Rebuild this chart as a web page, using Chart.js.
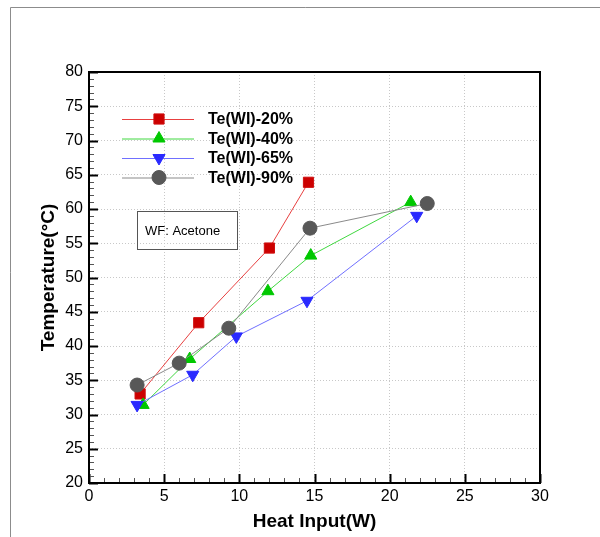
<!DOCTYPE html>
<html>
<head>
<meta charset="utf-8">
<script src="https://cdn.jsdelivr.net/npm/chart.js@4/dist/chart.umd.min.js"></script>
<style>
html,body{margin:0;padding:0;background:#fff;}
#c{display:block;}
</style>
</head>
<body>
<canvas id="c" width="600" height="537"></canvas>
<script>
// ---- data ----
const seriesNames = ['Te(WI)-20%', 'Te(WI)-40%', 'Te(WI)-65%', 'Te(WI)-90%'];
const x20 = [3.4, 7.3, 12.0, 14.6];
const y20 = [33.0, 43.4, 54.3, 63.9];
const x40 = [3.6, 6.7, 11.9, 14.75, 21.4];
const y40 = [31.4, 38.1, 48.0, 53.2, 61.0];
const x65 = [3.2, 6.9, 9.8, 14.5, 21.8];
const y65 = [31.4, 35.8, 41.4, 46.6, 59.0];
const x90 = [3.2, 6.0, 9.3, 14.7, 22.5];
const y90 = [34.3, 37.5, 42.6, 57.2, 60.8];
const xTicks = [0, 5, 10, 15, 20, 25, 30];
const yTicks = [20, 25, 30, 35, 40, 45, 50, 55, 60, 65, 70, 75, 80];
const xTitle = 'Heat Input(W)';
const yTitle = 'Temperature(°C)';
const noteText = 'WF: Acetone';

const pts = (xs, ys) => xs.map((v, i) => ({x: v, y: ys[i]}));

const styles = [
  {line: '#e84040', fill: '#cc0000', stroke: '#d01010', pointStyle: 'rect', radius: 7.2, rotation: 0},
  {line: '#40d840', fill: '#00c800', stroke: '#00c800', pointStyle: 'triangle', radius: 7, rotation: 0},
  {line: '#7070ff', fill: '#2a2aff', stroke: '#2a2aff', pointStyle: 'triangle', radius: 7, rotation: 180},
  {line: '#8a8a8a', fill: '#585858', stroke: '#585858', pointStyle: 'circle', radius: 7, rotation: 0}
];
const dataSets = [pts(x20, y20), pts(x40, y40), pts(x65, y65), pts(x90, y90)];

const FONT = '"Liberation Sans", Arial, sans-serif';

const decor = {
  id: 'decor',
  beforeDraw(chart) {
    const ctx = chart.ctx;
    ctx.save();
    ctx.fillStyle = '#fff';
    ctx.fillRect(0, 0, chart.width, chart.height);
    ctx.strokeStyle = '#8c8c8c';
    ctx.lineWidth = 1;
    ctx.beginPath();
    ctx.moveTo(10.5, chart.height);
    ctx.lineTo(10.5, 7.5);
    ctx.lineTo(chart.width, 7.5);
    ctx.stroke();
    ctx.restore();
  },
  afterDatasetsDraw(chart) {
    const ctx = chart.ctx;
    const a = chart.chartArea;
    const xs = chart.scales.x, ys = chart.scales.y;
    ctx.save();
    // minor and major ticks (inward, bottom and left only)
    for (let v = xs.min; v <= xs.max; v += 1) {
      const px = Math.round(xs.getPixelForValue(v)) + 0.5;
      const major = xTicks.includes(v);
      ctx.strokeStyle = major ? '#000' : '#555';
      ctx.lineWidth = major ? 2 : 1;
      const len = major ? 9 : 5;
      ctx.beginPath();
      ctx.moveTo(px, a.bottom); ctx.lineTo(px, a.bottom - len);
      ctx.stroke();
    }
    for (let v = ys.min; v <= ys.max; v += 1) {
      const py = Math.round(ys.getPixelForValue(v)) + 0.5;
      const major = yTicks.includes(v);
      ctx.strokeStyle = major ? '#000' : '#555';
      ctx.lineWidth = major ? 2 : 1;
      const len = major ? 9 : 5;
      ctx.beginPath();
      ctx.moveTo(a.left, py); ctx.lineTo(a.left + len, py);
      ctx.stroke();
    }
    // box
    ctx.strokeStyle = '#000';
    ctx.lineWidth = 2;
    ctx.strokeRect(a.left, a.top, a.right - a.left, a.bottom - a.top);

    // legend
    const lx0 = a.left + 33, lx1 = a.left + 105, mx = a.left + 70, tx = a.left + 119;
    const rowY0 = a.top + 47, rowGap = 19.5;
    ctx.font = 'bold 16px ' + FONT;
    ctx.textBaseline = 'middle';
    ctx.textAlign = 'left';
    seriesNames.forEach((name, i) => {
      const s = styles[i];
      const yy = rowY0 + i * rowGap;
      ctx.strokeStyle = s.line;
      ctx.lineWidth = 1;
      ctx.beginPath();
      ctx.moveTo(lx0, yy + 0.5); ctx.lineTo(lx1, yy + 0.5);
      ctx.stroke();
      ctx.fillStyle = s.fill;
      ctx.strokeStyle = s.stroke;
      Chart.helpers.drawPoint(ctx, {pointStyle: s.pointStyle, radius: s.radius, rotation: s.rotation, borderWidth: 1}, mx, yy);
      ctx.fillStyle = '#000';
      ctx.fillText(name, tx, yy + 1);
    });

    // note box
    const bx = a.left + 48, by = a.top + 139, bw = 100, bh = 38;
    ctx.strokeStyle = '#555';
    ctx.lineWidth = 1;
    ctx.strokeRect(bx + 0.5, by + 0.5, bw, bh);
    ctx.font = '13px ' + FONT;
    ctx.fillStyle = '#000';
    ctx.fillText(noteText, bx + 8, by + bh / 2 + 1);
    ctx.restore();
  }
};

new Chart(document.getElementById('c'), {
  type: 'scatter',
  data: {
    datasets: dataSets.map((d, i) => ({
      label: seriesNames[i],
      data: d,
      showLine: true,
      borderColor: styles[i].line,
      borderWidth: 1,
      backgroundColor: styles[i].fill,
      pointBackgroundColor: styles[i].fill,
      pointBorderColor: styles[i].stroke,
      pointBorderWidth: 1,
      pointStyle: styles[i].pointStyle,
      pointRadius: styles[i].radius,
      pointRotation: styles[i].rotation,
      pointHoverRadius: styles[i].radius,
      order: 4 - i,
      tension: 0
    }))
  },
  options: {
    responsive: false,
    animation: false,
    devicePixelRatio: 1,
    layout: {padding: {left: 0, top: 72, right: 60, bottom: 0}},
    plugins: {legend: {display: false}, tooltip: {enabled: false}},
    scales: {
      x: {
        type: 'linear', min: 0, max: 30,
        afterBuildTicks(s) { s.ticks = xTicks.map(v => ({value: v})); },
        afterFit(s) { s.height = 54; },
        ticks: {color: '#000', padding: 4, font: {family: FONT, size: 16}, maxRotation: 0},
        grid: {color: '#c8c8c8', borderDash: [1, 2], drawTicks: false, lineWidth: 1},
        border: {display: false, dash: [1, 2]},
        title: {display: true, text: xTitle, color: '#000', font: {family: FONT, size: 19, weight: 'bold'}, padding: {top: 0, bottom: 4}}
      },
      y: {
        type: 'linear', min: 20, max: 80,
        afterBuildTicks(s) { s.ticks = yTicks.map(v => ({value: v})); },
        afterFit(s) { s.width = 89; },
        ticks: {color: '#000', padding: 6, font: {family: FONT, size: 16}},
        grid: {color: '#c8c8c8', drawTicks: false, lineWidth: 1},
        border: {display: false, dash: [1, 2]},
        title: {display: true, text: yTitle, color: '#000', font: {family: FONT, size: 19, weight: 'bold'}, padding: {top: 37, bottom: 0}}
      }
    }
  },
  plugins: [decor]
});
</script>
</body>
</html>
